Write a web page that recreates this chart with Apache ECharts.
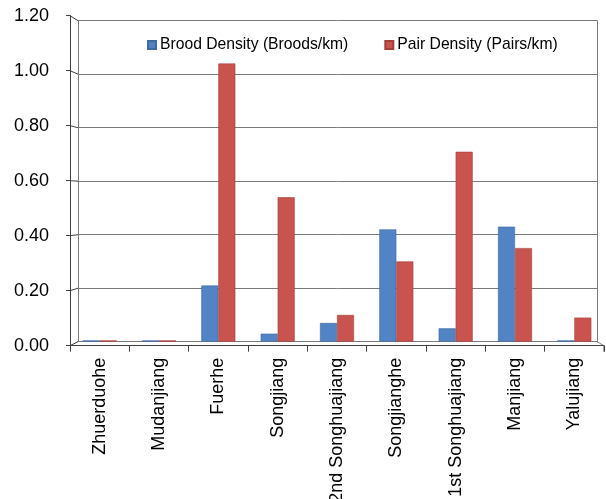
<!DOCTYPE html>
<html>
<head>
<meta charset="utf-8">
<script src="https://cdn.jsdelivr.net/npm/echarts@6/dist/echarts.min.js"></script>
<style>
  html, body { margin: 0; padding: 0; background: #ffffff; }
  #chart { width: 606px; height: 499px; }
</style>
</head>
<body>
<div id="chart"></div>
<script>
// River sections surveyed
const rivers = ['Zhuerduohe', 'Mudanjiang', 'Fuerhe', 'Songjiang', '2nd Songhuajiang',
                'Songjianghe', '1st Songhuajiang', 'Manjiang', 'Yalujiang'];
// Densities per river section
const broodDensity = [0.005, 0.005, 0.21, 0.03, 0.07, 0.42, 0.05, 0.43, 0.005];
const pairDensity  = [0.005, 0.005, 1.04, 0.54, 0.10, 0.30, 0.71, 0.35, 0.09];
// Value axis
const yTickLabels = ['0.00', '0.20', '0.40', '0.60', '0.80', '1.00', '1.20'];
const yMin = 0, yMax = 1.2, yStep = 0.2;

const FONT = "'Liberation Sans', Arial, sans-serif";
const W = 606, H = 499;
// back wall (also the plane the bars stand on) and front axis frame of the pseudo-3D box
const back  = { left: 78, right: 9, top: 20.7, bottom: 157.3, outerBoundsMode: 'none' };
const bars  = { left: 70, right: 2, top: 20.7, bottom: 157.3, outerBoundsMode: 'none' };
const front = { left: 70, right: 2, top: 15.7, bottom: 153.3, outerBoundsMode: 'none' };
const gridColor = '#7a7a7a';
const axisColor = '#404040';

const chart = echarts.init(document.getElementById('chart'), null, { renderer: 'canvas' });

const hiddenCat = { type: 'category', data: rivers, show: false };
const hiddenVal = { type: 'value', min: yMin, max: yMax, interval: yStep, show: false };

chart.setOption({
  animation: false,
  backgroundColor: '#ffffff',
  textStyle: { fontFamily: FONT },
  legend: {
    left: 147, top: 37, padding: 0,
    icon: 'rect', itemWidth: 8, itemHeight: 8, itemGap: 36,
    textStyle: { fontFamily: FONT, fontSize: 15.7, lineHeight: 16, color: '#000', padding: [0, 0, 0, -1] },
    data: ['Brood Density (Broods/km)', 'Pair Density (Pairs/km)']
  },
  grid: [
    { ...back },
    { ...bars },
    { ...front }
  ],
  xAxis: [
    { type: 'category', data: rivers, gridIndex: 0,
      axisLine: { show: true, lineStyle: { color: gridColor, width: 1 } },
      axisTick: { show: false }, axisLabel: { show: false }, splitLine: { show: false } },
    { ...hiddenCat, gridIndex: 1 },
    { type: 'category', data: rivers, gridIndex: 2, z: 5,
      axisLine: { show: true, lineStyle: { color: axisColor, width: 1 } },
      axisTick: { show: true, length: 6, lineStyle: { color: axisColor } },
      axisLabel: { show: true, rotate: 90, margin: 12, interval: 0,
                   fontFamily: FONT, fontSize: 18, color: '#000' },
      splitLine: { show: false } }
  ],
  yAxis: [
    { type: 'value', gridIndex: 0, min: yMin, max: yMax, interval: yStep,
      axisLine: { show: true, lineStyle: { color: gridColor, width: 1 } },
      axisTick: { show: false }, axisLabel: { show: false },
      splitLine: { show: true, lineStyle: { color: gridColor, width: 1 } } },
    { ...hiddenVal, gridIndex: 1 },
    { type: 'value', gridIndex: 2, min: yMin, max: yMax, interval: yStep, z: 5,
      axisLine: { show: true, lineStyle: { color: axisColor, width: 1 } },
      axisTick: { show: true, length: 4, lineStyle: { color: axisColor } },
      axisLabel: { show: true, margin: 21, fontFamily: FONT, fontSize: 18, color: '#000',
                   formatter: v => yTickLabels[Math.round((v - yMin) / yStep)] },
      splitLine: { show: false } },
    // right-hand edge of the back wall
    { type: 'value', gridIndex: 0, position: 'right', min: yMin, max: yMax, interval: yStep,
      axisLine: { show: true, lineStyle: { color: gridColor, width: 1 } },
      axisTick: { show: false }, axisLabel: { show: false }, splitLine: { show: false } }
  ],
  series: [
    { name: 'Brood Density (Broods/km)', type: 'bar', xAxisIndex: 1, yAxisIndex: 1,
      data: broodDensity, barWidth: 17, barGap: '0%', z: 3,
      itemStyle: { color: '#5283C4', borderColor: '#3f6aa3', borderWidth: 0.6 } },
    { name: 'Pair Density (Pairs/km)', type: 'bar', xAxisIndex: 1, yAxisIndex: 1,
      data: pairDensity, barWidth: 17, z: 3,
      itemStyle: { color: '#C9534F', borderColor: '#a23f3c', borderWidth: 0.6 } }
  ]
});

// Slanted edges joining the front axis frame to the back wall
const lines = [];
const backL = back.left, backR = W - back.right, frontL = front.left, frontR = W - front.right;
for (let v = yMin; v <= yMax + 1e-9; v += yStep) {
  const yf = chart.convertToPixel({ yAxisIndex: 2 }, v);
  const yb = chart.convertToPixel({ yAxisIndex: 0 }, v);
  lines.push({ type: 'line', z: 4, shape: { x1: frontL, y1: yf, x2: backL, y2: yb },
               style: { stroke: axisColor, lineWidth: 1 } });
}
const yf0 = chart.convertToPixel({ yAxisIndex: 2 }, yMin);
const yb0 = chart.convertToPixel({ yAxisIndex: 0 }, yMin);
lines.push({ type: 'line', z: 4, shape: { x1: frontR, y1: yf0, x2: backR, y2: yb0 },
             style: { stroke: gridColor, lineWidth: 1 } });
lines.push({ type: 'line', z: 4, shape: { x1: frontR, y1: yf0, x2: frontR, y2: yf0 + 6 },
             style: { stroke: axisColor, lineWidth: 1 } });
chart.setOption({ graphic: lines });
</script>
</body>
</html>
